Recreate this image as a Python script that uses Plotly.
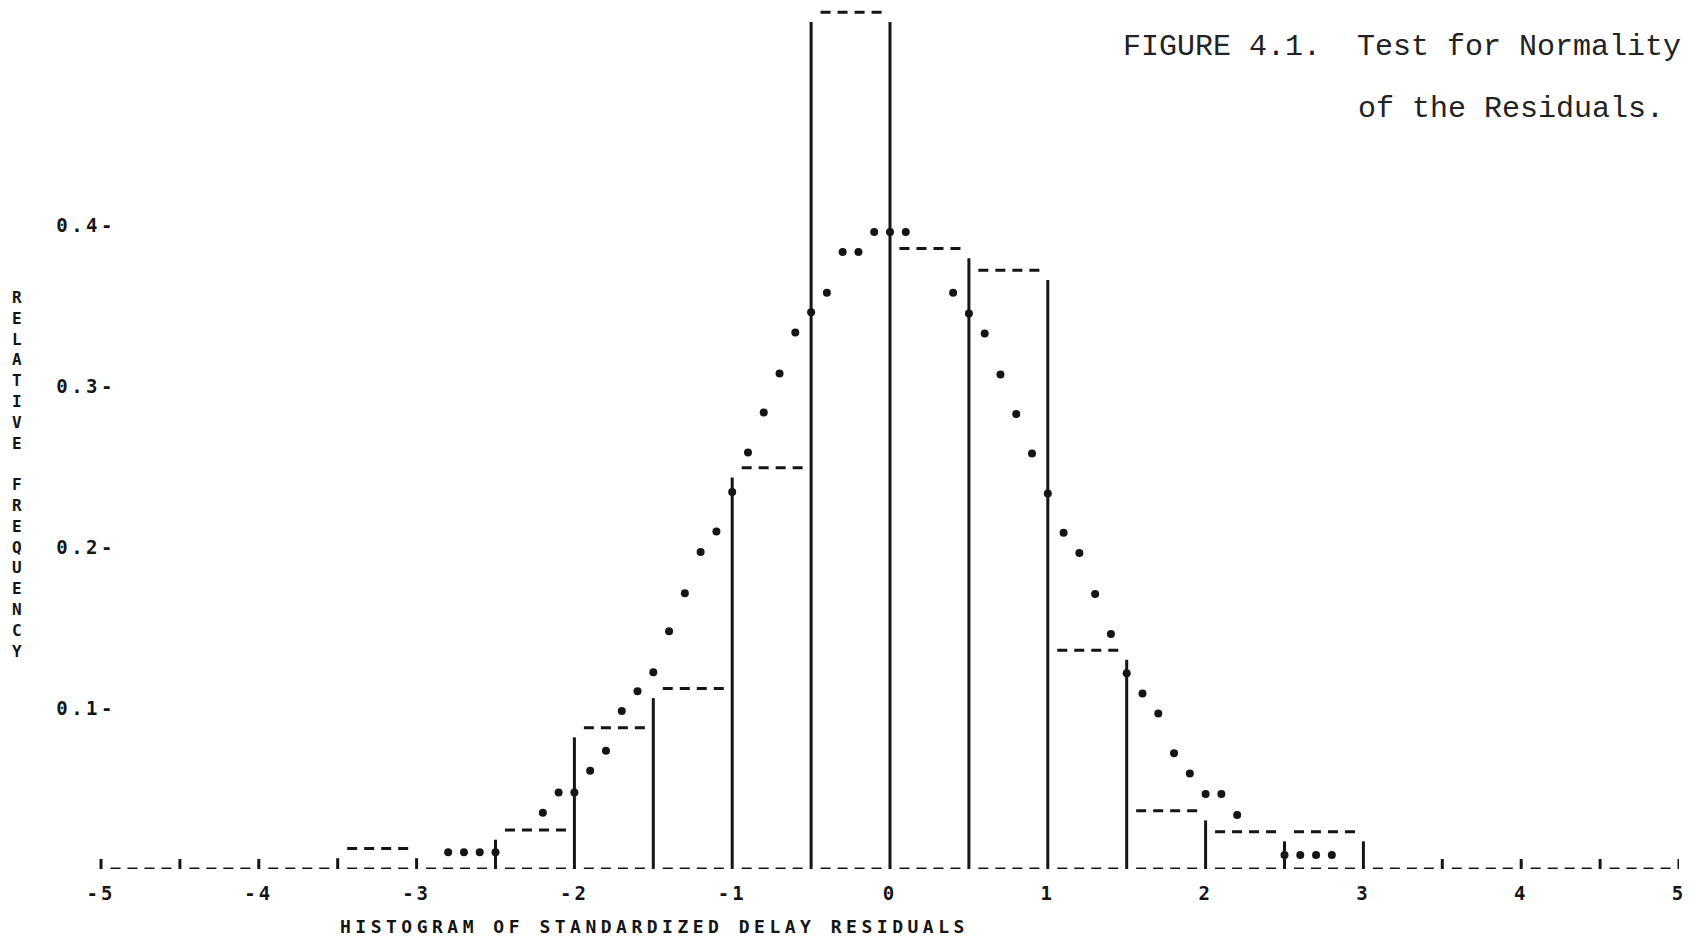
import plotly.graph_objects as go

# ---------------- data ----------------
bin_left = [-5.0, -4.5, -4.0, -3.5, -3.0, -2.5, -2.0, -1.5, -1.0, -0.5,
            0.0, 0.5, 1.0, 1.5, 2.0, 2.5, 3.0, 3.5, 4.0, 4.5]
bin_width = 0.5
rel_freq = [0, 0, 0, 0.0127, 0, 0.0242, 0.0878, 0.1122, 0.2493, 0.5323,
            0.3855, 0.372, 0.136, 0.0362, 0.0232, 0.0232, 0, 0, 0, 0]

normal_x = [-2.8, -2.7, -2.6, -2.5, -2.2, -2.1, -2.0, -1.9, -1.8, -1.7, -1.6, -1.5,
            -1.4, -1.3, -1.2, -1.1, -1.0, -0.9, -0.8, -0.7, -0.6, -0.5, -0.4, -0.3,
            -0.2, -0.1, 0.0, 0.1, 0.4, 0.5, 0.6, 0.7, 0.8, 0.9, 1.0, 1.1, 1.2, 1.3,
            1.4, 1.5, 1.6, 1.7, 1.8, 1.9, 2.0, 2.1, 2.2, 2.5, 2.6, 2.7, 2.8]
normal_y = [0.0104, 0.0104, 0.0104, 0.0104, 0.035, 0.0476, 0.0476, 0.0611, 0.0735, 0.0981,
            0.1104, 0.1222, 0.1478, 0.1714, 0.1969, 0.2097, 0.2343, 0.2588, 0.2837, 0.3079,
            0.3334, 0.346, 0.358, 0.3834, 0.3834, 0.3958, 0.3958, 0.3958, 0.358, 0.3452,
            0.3327, 0.3073, 0.2828, 0.2582, 0.2334, 0.209, 0.1963, 0.1708, 0.146, 0.1216,
            0.1091, 0.0967, 0.0719, 0.0594, 0.0466, 0.0466, 0.0335, 0.0087, 0.0087, 0.0087,
            0.0087]

x_tick_vals = [-5, -4, -3, -2, -1, 0, 1, 2, 3, 4, 5]
x_tick_text = ["-5", "-4", "-3", "-2", "-1", "0", "1", "2", "3", "4", "5"]
y_tick_vals = [0.1, 0.2, 0.3, 0.4]
y_tick_text = ["0.1-", "0.2-", "0.3-", "0.4-"]

title_line1 = "FIGURE 4.1.\u00a0 Test for Normality"
title_line2 = "of the Residuals."
x_title = "HISTOGRAM OF STANDARDIZED DELAY RESIDUALS"
y_title = "RELATIVE FREQUENCY"

# ---------------- layout geometry ----------------
W, H = 1697, 943
L, R, T, B = 40, 18, 8, 74
PX_PER_UNIT = 157.8
plot_w = W - L - R
plot_h = H - T - B
x_hi = 5.0
x_lo = x_hi - plot_w / PX_PER_UNIT
y_range = [0, 0.535]


def px_to_paper(px, py):
    return (px - L) / plot_w, (H - B - py) / plot_h


INK = "#151515"
PLOT_FONT = "DejaVu Sans Mono"


def spaced(s, ls):
    return f'<span style="letter-spacing:{ls}px">{s}</span>'


# ---------------- build histogram outline from data ----------------
edges = bin_left + [bin_left[-1] + bin_width]
vx, vy = [], []
for i, e in enumerate(edges):
    left_h = rel_freq[i - 1] if i > 0 else 0
    right_h = rel_freq[i] if i < len(rel_freq) else 0
    top = max(max(left_h, right_h) - 0.006, 0.0062)
    vx += [e, e, None]
    vy += [-0.0055, top, None]

base_x, base_y, top_x, top_y = [], [], [], []
for lft, h in zip(bin_left, rel_freq):
    seg = [lft + 0.06, lft + 0.45, None]
    base_x += seg
    base_y += [0, 0, None]
    if h > 0:
        top_x += seg
        top_y += [h, h, None]

fig = go.Figure()
fig.add_trace(go.Scatter(x=vx, y=vy, mode="lines", line=dict(color=INK, width=3),
                         cliponaxis=False, hoverinfo="skip", name="bin edges"))
fig.add_trace(go.Scatter(x=base_x, y=base_y, mode="lines",
                         line=dict(color=INK, width=3, dash="10px,7px"),
                         cliponaxis=False, hoverinfo="skip", name="baseline"))
fig.add_trace(go.Scatter(x=top_x, y=top_y, mode="lines",
                         line=dict(color=INK, width=3, dash="10px,7px"),
                         cliponaxis=False, name="relative frequency"))
fig.add_trace(go.Scatter(x=normal_x, y=normal_y, mode="markers",
                         marker=dict(color=INK, size=8, symbol="circle"),
                         cliponaxis=False, name="normal curve"))

annotations = []
ax1, ay1 = px_to_paper(1121, 47)
annotations.append(dict(x=ax1, y=ay1, xref="paper", yref="paper", xanchor="left",
                        yanchor="middle", showarrow=False, text=title_line1,
                        font=dict(family="Liberation Mono", size=30, color="#222")))
ax2, ay2 = px_to_paper(1356, 109)
annotations.append(dict(x=ax2, y=ay2, xref="paper", yref="paper", xanchor="left",
                        yanchor="middle", showarrow=False, text=title_line2,
                        font=dict(family="Liberation Mono", size=30, color="#222")))
ax3, ay3 = px_to_paper(654, 927)
annotations.append(dict(x=ax3, y=ay3, xref="paper", yref="paper", xanchor="center",
                        yanchor="middle", showarrow=False, text=spaced(x_title, 4.5),
                        font=dict(family=PLOT_FONT, size=18, color=INK, weight="bold")))
ax4, ay4 = px_to_paper(17, 474)
annotations.append(dict(x=ax4, y=ay4, xref="paper", yref="paper", xanchor="center",
                        yanchor="middle", showarrow=False,
                        text="<br>".join(c if c != " " else "\u00a0" for c in y_title),
                        font=dict(family=PLOT_FONT, size=16, color=INK, weight="bold")))

y_axis_px = 116
fig.update_layout(
    width=W, height=H,
    margin=dict(l=L, r=R, t=T, b=B, pad=0),
    paper_bgcolor="white", plot_bgcolor="white",
    showlegend=False,
    annotations=annotations,
    xaxis=dict(range=[x_lo, x_hi], showgrid=False, zeroline=False, showline=False,
               tickvals=x_tick_vals, ticktext=[spaced(t, 3) for t in x_tick_text],
               ticks="outside", ticklen=7, tickcolor="rgba(0,0,0,0)",
               tickfont=dict(family=PLOT_FONT, size=19, color=INK, weight="bold")),
    yaxis=dict(range=y_range, showgrid=False, zeroline=False, showline=False,
               anchor="free", position=(y_axis_px - L) / plot_w,
               tickvals=y_tick_vals, ticktext=[spaced(t, 3.5) for t in y_tick_text],
               ticks="",
               tickfont=dict(family=PLOT_FONT, size=19, color=INK, weight="bold")),
)

fig.write_html("out.html", config={"displayModeBar": False},
               post_script="document.body.style.margin='0';document.body.style.overflow='hidden';")
